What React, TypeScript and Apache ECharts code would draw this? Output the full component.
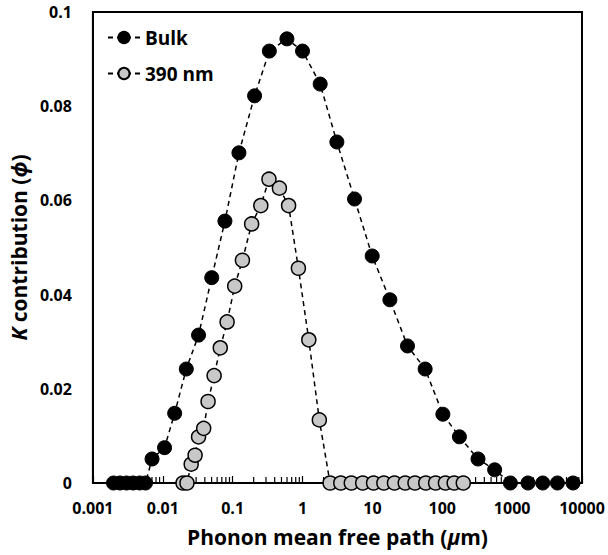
import React, { useEffect, useRef } from "react";
import * as echarts from "echarts";

const xTickLabels = ["0.001", "0.01", "0.1", "1", "10", "100", "1000", "10000"];
const yTickLabels = ["0", "0.02", "0.04", "0.06", "0.08", "0.1"];

const bulkX = [0.00197, 0.00244, 0.00303, 0.00376, 0.00467, 0.00566, 0.00702, 0.0106, 0.0148, 0.0217, 0.0325, 0.0502, 0.0775, 0.123, 0.206, 0.335, 0.598, 1.0, 1.79, 3.1, 5.55, 9.94, 17.8, 31.8, 56.9, 102, 176, 325, 562, 944, 1687, 2741, 4447, 7451];
const bulkY = [0, 0, 0, 0, 0, 0, 0.0051, 0.0075, 0.0148, 0.0242, 0.0314, 0.0436, 0.0556, 0.0701, 0.0822, 0.0917, 0.0943, 0.0917, 0.0847, 0.0724, 0.0603, 0.0482, 0.0389, 0.0291, 0.0242, 0.0146, 0.0098, 0.0051, 0.0028, 0, 0, 0, 0, 0];

const nmX = [0.0195, 0.0222, 0.0255, 0.029, 0.0325, 0.0385, 0.0445, 0.0543, 0.0665, 0.0833, 0.107, 0.138, 0.187, 0.253, 0.331, 0.467, 0.632, 0.873, 1.23, 1.74, 2.48, 3.53, 4.99, 7.27, 10.4, 14.6, 20.7, 29.5, 40.7, 58.1, 80.3, 111, 148, 200];
const nmY = [0, 0, 0.004, 0.0059, 0.0098, 0.0116, 0.0173, 0.0228, 0.0287, 0.0342, 0.0418, 0.0473, 0.055, 0.0589, 0.0645, 0.0626, 0.0589, 0.0456, 0.0304, 0.0134, 0, 0, 0, 0, 0, 0, 0, 0, 0, 0, 0, 0, 0, 0];

const FONT = "'Open Sans', 'Noto Sans', sans-serif";

export default function App() {
  const ref = useRef<HTMLDivElement>(null);

  useEffect(() => {
    if (!ref.current) return;
    const chart = echarts.init(ref.current, undefined, { renderer: "svg" });

    const minorTicks: number[][] = [];
    for (let e = -3; e < 4; e++) {
      for (let m = 2; m <= 9; m++) {
        minorTicks.push([m * Math.pow(10, e), 0]);
      }
    }

    const decadeIndex = (v: number) => Math.round(Math.log10(v)) + 3;

    chart.setOption({
      animation: false,
      backgroundColor: "#ffffff",
      textStyle: { fontFamily: FONT },
      grid: {
        left: 83,
        right: 26,
        top: 12,
        bottom: 72,
        show: true,
        borderColor: "#000",
        borderWidth: 2,
        backgroundColor: "transparent",
      },
      legend: {
        data: ["Bulk", "390 nm"],
        orient: "vertical",
        left: 102,
        top: 23,
        itemWidth: 32,
        itemHeight: 14,
        itemGap: 17,
        textStyle: { fontFamily: FONT, fontWeight: "bold", fontSize: 19, color: "#000" },
      },
      xAxis: {
        type: "log",
        logBase: 10,
        min: 0.001,
        max: 10000,
        name: "Phonon mean free path ({i|\u03bc}m)",
        nameLocation: "middle",
        nameGap: 43,
        nameTextStyle: {
          fontFamily: FONT,
          fontWeight: "bold",
          fontSize: 21,
          color: "#000",
          rich: {
            i: { fontFamily: FONT, fontWeight: "bold", fontStyle: "italic", fontSize: 21, color: "#000" },
          },
        },
        axisLine: { show: true, lineStyle: { color: "#000", width: 2 } },
        axisTick: { show: true, inside: true, length: 7, lineStyle: { color: "#000", width: 1.2 } },
        axisLabel: {
          margin: 17,
          fontFamily: FONT,
          fontWeight: "bold",
          fontSize: 16,
          color: "#000",
          formatter: (v: number) => xTickLabels[decadeIndex(v)] ?? "",
        },
        splitLine: { show: false },
      },
      yAxis: {
        type: "value",
        min: 0,
        max: 0.1,
        interval: 0.02,
        name: "{i|K} contribution ({i|\u03d5})",
        nameLocation: "middle",
        nameGap: 58,
        nameRotate: 90,
        nameTextStyle: {
          fontFamily: FONT,
          fontWeight: "bold",
          fontSize: 21,
          color: "#000",
          rich: {
            i: { fontFamily: FONT, fontWeight: "bold", fontStyle: "italic", fontSize: 21, color: "#000" },
          },
        },
        axisLine: { show: true, lineStyle: { color: "#000", width: 2 } },
        axisTick: { show: false },
        axisLabel: {
          margin: 21,
          fontFamily: FONT,
          fontWeight: "bold",
          fontSize: 16,
          color: "#000",
          formatter: (v: number) => yTickLabels[Math.round(v / 0.02)] ?? "",
        },
        splitLine: { show: false },
      },
      series: [
        {
          type: "custom",
          name: "minor",
          data: minorTicks,
          silent: true,
          z: 1,
          clip: false,
          renderItem: (params: any, api: any) => {
            const p = api.coord([api.value(0), 0]);
            return {
              type: "line",
              shape: { x1: p[0], y1: p[1], x2: p[0], y2: p[1] - 6 },
              style: { stroke: "#000", lineWidth: 1.2 },
            };
          },
        },
        {
          type: "line",
          name: "Bulk",
          data: bulkX.map((x, i) => [x, bulkY[i]]),
          symbol: "circle",
          symbolSize: 14,
          showAllSymbol: true,
          z: 3,
          lineStyle: { color: "#000", width: 1.5, type: [5, 4] },
          itemStyle: { color: "#000", borderColor: "#000", borderWidth: 1 },
        },
        {
          type: "line",
          name: "390 nm",
          data: nmX.map((x, i) => [x, nmY[i]]),
          symbol: "circle",
          symbolSize: 14,
          showAllSymbol: true,
          z: 4,
          lineStyle: { color: "#000", width: 1.5, type: [5, 4] },
          itemStyle: { color: "#c8c8c8", borderColor: "#000", borderWidth: 1.5 },
        },
      ],
    });

    return () => chart.dispose();
  }, []);

  return (
    <div
      ref={ref}
      style={{ position: "absolute", left: 0, top: 0, width: 608, height: 555, background: "#fff" }}
    />
  );
}
